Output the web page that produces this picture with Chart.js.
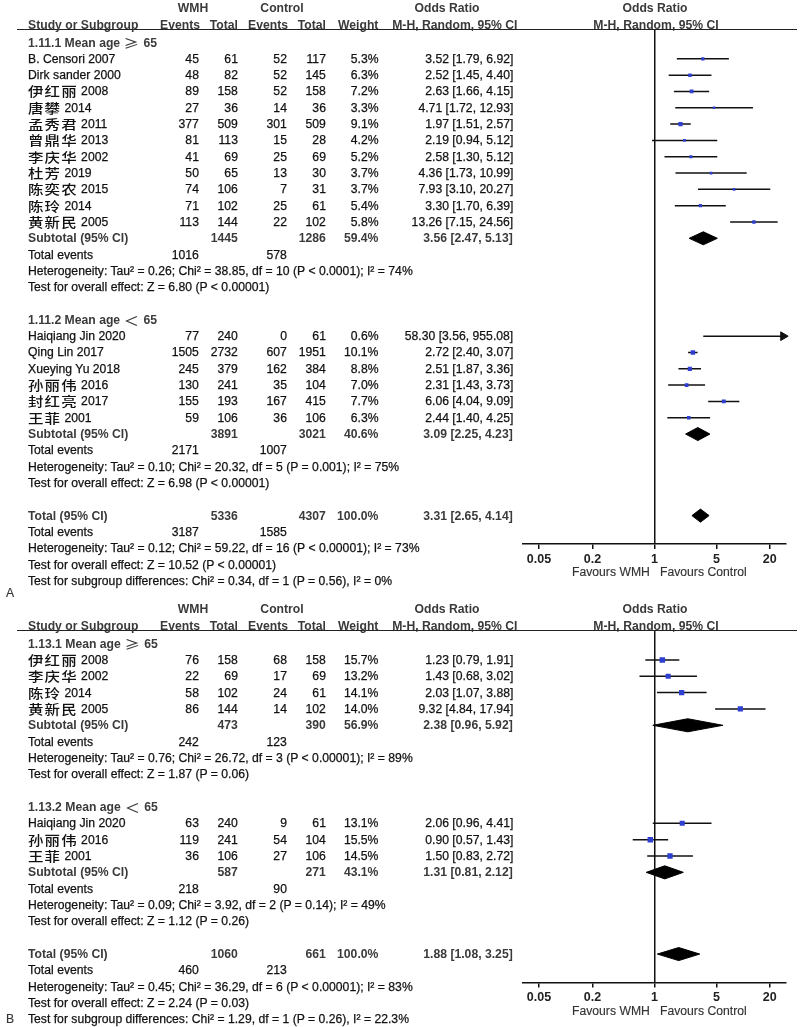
<!DOCTYPE html>
<html>
<head>
<meta charset="utf-8">
<script src="https://cdn.jsdelivr.net/npm/chart.js@4.4.1/dist/chart.umd.min.js"></script>
<style>
html, body { margin: 0; padding: 0; background: #fff; }
#page { position: relative; width: 800px; height: 1027px; overflow: hidden; font-family: 'Liberation Sans', Arial, sans-serif; }
canvas { position: absolute; left: 0; }
.t { position: absolute; white-space: nowrap; font-size: 12.5px; line-height: 16px; height: 16px; color: #111; -webkit-text-stroke: 0.25px #111; }
.b { font-weight: bold; color: #3a3a3a; -webkit-text-stroke: 0; }
.g { color: #333; -webkit-text-stroke: 0.15px #333; }
.cjk { font-family: 'Noto Sans CJK SC', sans-serif; font-size: 13px; font-weight: 500; display: inline-block; width: 17px; height: 16px; line-height: 16px; vertical-align: top; transform: scaleX(1.22); transform-origin: left center; -webkit-text-stroke: 0; }
.rule { position: absolute; left: 17px; width: 780px; height: 0; border-top: 1.5px solid #222; }
</style>
</head>
<body>
<div id="page"></div>
<script>
var xTicks = [0.05, 0.2, 1, 5, 20];
var xMin = 0.033, xMax = 30.5;

// ---- panel A, 1.11.1 ----
var a1Studies = ['B. Censori 2007', 'Dirk sander 2000', '伊红丽 2008', '唐攀 2014', '孟秀君 2011', '曾鼎华 2013', '李庆华 2002', '杜芳 2019', '陈奕农 2015', '陈玲 2014', '黄新民 2005'];
var a1WmhEvents = [45, 48, 89, 27, 377, 81, 41, 50, 74, 71, 113];
var a1WmhTotal = [61, 82, 158, 36, 509, 113, 69, 65, 106, 102, 144];
var a1CtlEvents = [52, 52, 52, 14, 301, 15, 25, 13, 7, 25, 22];
var a1CtlTotal = [117, 145, 158, 36, 509, 28, 69, 30, 31, 61, 102];
var a1Weight = [5.3, 6.3, 7.2, 3.3, 9.1, 4.2, 5.2, 3.7, 3.7, 5.4, 5.8];
var a1OR = [3.52, 2.52, 2.63, 4.71, 1.97, 2.19, 2.58, 4.36, 7.93, 3.30, 13.26];
var a1Lo = [1.79, 1.45, 1.66, 1.72, 1.51, 0.94, 1.30, 1.73, 3.10, 1.70, 7.15];
var a1Hi = [6.92, 4.40, 4.15, 12.93, 2.57, 5.12, 5.12, 10.99, 20.27, 6.39, 24.56];
// [WMH total, control total, weight, OR, lower, upper]
var a1Subtotal = [1445, 1286, 59.4, 3.56, 2.47, 5.13];
var a1Events = [1016, 578];

// ---- panel A, 1.11.2 ----
var a2Studies = ['Haiqiang Jin 2020', 'Qing Lin 2017', 'Xueying Yu 2018', '孙丽伟 2016', '封红亮 2017', '王菲 2001'];
var a2WmhEvents = [77, 1505, 245, 130, 155, 59];
var a2WmhTotal = [240, 2732, 379, 241, 193, 106];
var a2CtlEvents = [0, 607, 162, 35, 167, 36];
var a2CtlTotal = [61, 1951, 384, 104, 415, 106];
var a2Weight = [0.6, 10.1, 8.8, 7.0, 7.7, 6.3];
var a2OR = [58.30, 2.72, 2.51, 2.31, 6.06, 2.44];
var a2Lo = [3.56, 2.40, 1.87, 1.43, 4.04, 1.40];
var a2Hi = [955.08, 3.07, 3.36, 3.73, 9.09, 4.25];
var a2Subtotal = [3891, 3021, 40.6, 3.09, 2.25, 4.23];
var a2Events = [2171, 1007];

var aTotal = [5336, 4307, 100.0, 3.31, 2.65, 4.14];
var aTotalEvents = [3187, 1585];

// ---- panel B, 1.13.1 ----
var b1Studies = ['伊红丽 2008', '李庆华 2002', '陈玲 2014', '黄新民 2005'];
var b1WmhEvents = [76, 22, 58, 86];
var b1WmhTotal = [158, 69, 102, 144];
var b1CtlEvents = [68, 17, 24, 14];
var b1CtlTotal = [158, 69, 61, 102];
var b1Weight = [15.7, 13.2, 14.1, 14.0];
var b1OR = [1.23, 1.43, 2.03, 9.32];
var b1Lo = [0.79, 0.68, 1.07, 4.84];
var b1Hi = [1.91, 3.02, 3.88, 17.94];
var b1Subtotal = [473, 390, 56.9, 2.38, 0.96, 5.92];
var b1Events = [242, 123];

// ---- panel B, 1.13.2 ----
var b2Studies = ['Haiqiang Jin 2020', '孙丽伟 2016', '王菲 2001'];
var b2WmhEvents = [63, 119, 36];
var b2WmhTotal = [240, 241, 106];
var b2CtlEvents = [9, 54, 27];
var b2CtlTotal = [61, 104, 106];
var b2Weight = [13.1, 15.5, 14.5];
var b2OR = [2.06, 0.90, 1.50];
var b2Lo = [0.96, 0.57, 0.83];
var b2Hi = [4.41, 1.43, 2.72];
var b2Subtotal = [587, 271, 43.1, 1.31, 0.81, 2.12];
var b2Events = [218, 90];

var bTotal = [1060, 661, 100.0, 1.88, 1.08, 3.25];
var bTotalEvents = [460, 213];

function group(title, names, we, wt, ce, ct, w, or, lo, hi, sub, ev, het, test) {
    return { title: title, names: names, we: we, wt: wt, ce: ce, ct: ct, w: w, or: or, lo: lo, hi: hi, sub: sub, ev: ev, het: het, test: test };
}

var panels = [
    {
        top: 0, height: 600, lineY: 29.5, axisY: 544, labelY: 593, label: 'A',
        groups: [
            group('1.11.1 Mean age ≥ 65', a1Studies, a1WmhEvents, a1WmhTotal, a1CtlEvents, a1CtlTotal, a1Weight, a1OR, a1Lo, a1Hi, a1Subtotal, a1Events,
                'Heterogeneity: Tau² = 0.26; Chi² = 38.85, df = 10 (P < 0.0001); I² = 74%', 'Test for overall effect: Z = 6.80 (P < 0.00001)'),
            group('1.11.2 Mean age ＜ 65', a2Studies, a2WmhEvents, a2WmhTotal, a2CtlEvents, a2CtlTotal, a2Weight, a2OR, a2Lo, a2Hi, a2Subtotal, a2Events,
                'Heterogeneity: Tau² = 0.10; Chi² = 20.32, df = 5 (P = 0.001); I² = 75%', 'Test for overall effect: Z = 6.98 (P < 0.00001)')
        ],
        total: aTotal, totalEvents: aTotalEvents,
        notes: ['Heterogeneity: Tau² = 0.12; Chi² = 59.22, df = 16 (P < 0.00001); I² = 73%', 'Test for overall effect: Z = 10.52 (P < 0.00001)', 'Test for subgroup differences: Chi² = 0.34, df = 1 (P = 0.56), I² = 0%']
    },
    {
        top: 600, height: 427, lineY: 630.5, axisY: 982.5, labelY: 1019, label: 'B',
        groups: [
            group('1.13.1 Mean age ≥ 65', b1Studies, b1WmhEvents, b1WmhTotal, b1CtlEvents, b1CtlTotal, b1Weight, b1OR, b1Lo, b1Hi, b1Subtotal, b1Events,
                'Heterogeneity: Tau² = 0.76; Chi² = 26.72, df = 3 (P < 0.00001); I² = 89%', 'Test for overall effect: Z = 1.87 (P = 0.06)'),
            group('1.13.2 Mean age ＜ 65', b2Studies, b2WmhEvents, b2WmhTotal, b2CtlEvents, b2CtlTotal, b2Weight, b2OR, b2Lo, b2Hi, b2Subtotal, b2Events,
                'Heterogeneity: Tau² = 0.09; Chi² = 3.92, df = 2 (P = 0.14); I² = 49%', 'Test for overall effect: Z = 1.12 (P = 0.26)')
        ],
        total: bTotal, totalEvents: bTotalEvents,
        notes: ['Heterogeneity: Tau² = 0.45; Chi² = 36.29, df = 6 (P < 0.00001); I² = 83%', 'Test for overall effect: Z = 2.24 (P = 0.03)', 'Test for subgroup differences: Chi² = 1.29, df = 1 (P = 0.26), I² = 22.3%']
    }
];

var FONT = "'Liberation Sans', Arial, sans-serif";
var SX = 0.975;
var AXIS_H = 20;
var page = document.getElementById('page');

function markup(s) {
    s = String(s).replace(/&/g, '&amp;').replace(/</g, '&lt;');
    // each CJK glyph gets its own wide box, as in the figure
    return s.replace(/([\u4e00-\u9fff\u2265\uff1c])/g, '<span class="cjk">$1</span>');
}

function txt(x, y, s, align, cls) {
    var d = document.createElement('div');
    d.className = 't ' + (cls || '');
    d.innerHTML = markup(s);
    d.style.top = (y - 8) + 'px';
    if (align === 'right') {
        d.style.right = (800 - x) + 'px';
        d.style.transformOrigin = 'right center';
        d.style.transform = 'scaleX(' + SX + ')';
    } else if (align === 'center') {
        d.style.left = x + 'px';
        d.style.transformOrigin = 'center center';
        d.style.transform = 'translateX(-50%) scaleX(' + SX + ')';
    } else {
        d.style.left = x + 'px';
        d.style.transformOrigin = 'left center';
        d.style.transform = 'scaleX(' + SX + ')';
    }
    page.appendChild(d);
}

function orText(or, lo, hi) {
    return or.toFixed(2) + ' [' + lo.toFixed(2) + ', ' + hi.toFixed(2) + ']';
}

var COL = { name: 28, we: 199, wt: 238, ce: 287, ct: 326, w: 378, or: 513 };

function drawPanel(p) {
    var rows = [];
    var r = 0;
    p.groups.forEach(function (g) {
        rows.push({ kind: 'title', r: r++, text: g.title });
        g.names.forEach(function (n, i) { rows.push({ kind: 'study', r: r++, g: g, i: i }); });
        rows.push({ kind: 'sub', r: r++, label: 'Subtotal (95% CI)', s: g.sub });
        rows.push({ kind: 'events', r: r++, ev: g.ev });
        rows.push({ kind: 'note', r: r++, text: g.het });
        rows.push({ kind: 'note', r: r++, text: g.test });
        r++;
    });
    rows.push({ kind: 'sub', r: r++, label: 'Total (95% CI)', s: p.total });
    var axisRow = r + 0.74;
    rows.push({ kind: 'events', r: r++, ev: p.totalEvents });
    p.notes.forEach(function (n) { rows.push({ kind: 'note', r: r++, text: n }); });

    // marks
    var datasets = [];
    var squares = [], sqRadius = [], arrows = [];
    rows.forEach(function (row) {
        if (row.kind === 'study') {
            var g = row.g, i = row.i;
            datasets.push({
                data: [{ x: g.lo[i], y: row.r }, { x: g.hi[i], y: row.r }],
                showLine: true, borderColor: '#111', borderWidth: 1.5, pointRadius: 0, order: 2
            });
            squares.push({ x: g.or[i], y: row.r });
            sqRadius.push(1.4 * Math.sqrt(g.w[i]) / Math.SQRT2);
            if (g.hi[i] > xMax) arrows.push({ x: xMax * 0.93, y: row.r });
        } else if (row.kind === 'sub') {
            var s = row.s, h = 0.4;
            datasets.push({
                data: [{ x: s[4], y: row.r }, { x: s[3], y: row.r - h }, { x: s[5], y: row.r }, { x: s[3], y: row.r + h }, { x: s[4], y: row.r }],
                showLine: true, fill: 'shape', backgroundColor: '#000', borderColor: '#000', borderWidth: 1, pointRadius: 0, order: 1
            });
        }
    });
    datasets.unshift({
        data: squares, showLine: false, pointStyle: 'rect', pointRadius: sqRadius,
        backgroundColor: '#2f3fd0', borderColor: '#2f3fd0', borderWidth: 0, order: 0
    });
    datasets.unshift({
        data: arrows, showLine: false, pointStyle: 'triangle', rotation: 90, pointRadius: 5,
        backgroundColor: '#111', borderColor: '#111', borderWidth: 1, clip: false, order: 0
    });

    var canvas = document.createElement('canvas');
    canvas.width = 800;
    canvas.height = p.height;
    canvas.style.top = p.top + 'px';
    page.appendChild(canvas);

    var chart = new Chart(canvas, {
        type: 'scatter',
        data: { datasets: datasets },
        options: {
            responsive: false,
            animation: false,
            devicePixelRatio: 1,
            layout: { padding: { left: 523, right: 14, top: p.lineY - p.top, bottom: p.top + p.height - p.axisY - AXIS_H } },
            plugins: { legend: { display: false }, tooltip: { enabled: false } },
            scales: {
                x: {
                    type: 'logarithmic', min: xMin, max: xMax,
                    afterBuildTicks: function (s) { s.ticks = xTicks.map(function (v) { return { value: v }; }); },
                    afterFit: function (s) { s.height = AXIS_H; },
                    grid: {
                        drawOnChartArea: true, drawTicks: true, tickLength: 5, tickColor: '#111', tickWidth: 1.5,
                        lineWidth: 1.5,
                        color: function (c) { return (c.tick && c.tick.value === 1) ? '#111' : 'rgba(0,0,0,0)'; }
                    },
                    border: { display: true, color: '#111', width: 1.5 },
                    ticks: {
                        autoSkip: false, maxRotation: 0, padding: 3, color: '#222',
                        font: { family: FONT, size: 12.5, weight: 'bold' },
                        callback: function (v) { return String(v); }
                    }
                },
                y: { type: 'linear', reverse: true, min: -0.8, max: axisRow, display: false }
            }
        }
    });

    var ys = chart.scales.y;
    function Y(row) { return p.top + ys.getPixelForValue(row); }

    // header
    var rule = document.createElement('div');
    rule.className = 'rule';
    rule.style.top = (p.lineY - 0.75) + 'px';
    page.appendChild(rule);

    txt(193, Y(-2.1), 'WMH', 'center', 'b');
    txt(282, Y(-2.1), 'Control', 'center', 'b');
    txt(447, Y(-2.1), 'Odds Ratio', 'center', 'b');
    txt(655, Y(-2.1), 'Odds Ratio', 'center', 'b');
    var hy = Y(-1.08);
    txt(COL.name, hy, 'Study or Subgroup', 'left', 'b');
    txt(200, hy, 'Events', 'right', 'b');
    txt(COL.wt, hy, 'Total', 'right', 'b');
    txt(288, hy, 'Events', 'right', 'b');
    txt(COL.ct, hy, 'Total', 'right', 'b');
    txt(COL.w, hy, 'Weight', 'right', 'b');
    txt(517, hy, 'M-H, Random, 95% CI', 'right', 'b');
    txt(656, hy, 'M-H, Random, 95% CI', 'center', 'b');

    rows.forEach(function (row) {
        var y = Y(row.r);
        if (row.kind === 'title') {
            txt(COL.name, y, row.text, 'left', 'b');
        } else if (row.kind === 'study') {
            var g = row.g, i = row.i;
            txt(COL.name, y, g.names[i], 'left');
            txt(COL.we, y, g.we[i], 'right');
            txt(COL.wt, y, g.wt[i], 'right');
            txt(COL.ce, y, g.ce[i], 'right');
            txt(COL.ct, y, g.ct[i], 'right');
            txt(COL.w, y, g.w[i].toFixed(1) + '%', 'right');
            txt(COL.or, y, orText(g.or[i], g.lo[i], g.hi[i]), 'right');
        } else if (row.kind === 'sub') {
            var s = row.s;
            txt(COL.name, y, row.label, 'left', 'b');
            txt(COL.wt, y, s[0], 'right', 'b');
            txt(COL.ct, y, s[1], 'right', 'b');
            txt(COL.w, y, s[2].toFixed(1) + '%', 'right', 'b');
            txt(COL.or, y, orText(s[3], s[4], s[5]), 'right', 'b');
        } else if (row.kind === 'events') {
            txt(COL.name, y, 'Total events', 'left');
            txt(COL.we, y, row.ev[0], 'right');
            txt(COL.ce, y, row.ev[1], 'right');
        } else {
            txt(COL.name, y, row.text, 'left');
        }
    });

    txt(650, p.axisY + 28, 'Favours WMH', 'right', 'g');
    txt(660, p.axisY + 28, 'Favours Control', 'left', 'g');
    txt(6, p.labelY, p.label, 'left', 'g');
}

panels.forEach(drawPanel);
</script>
</body>
</html>
